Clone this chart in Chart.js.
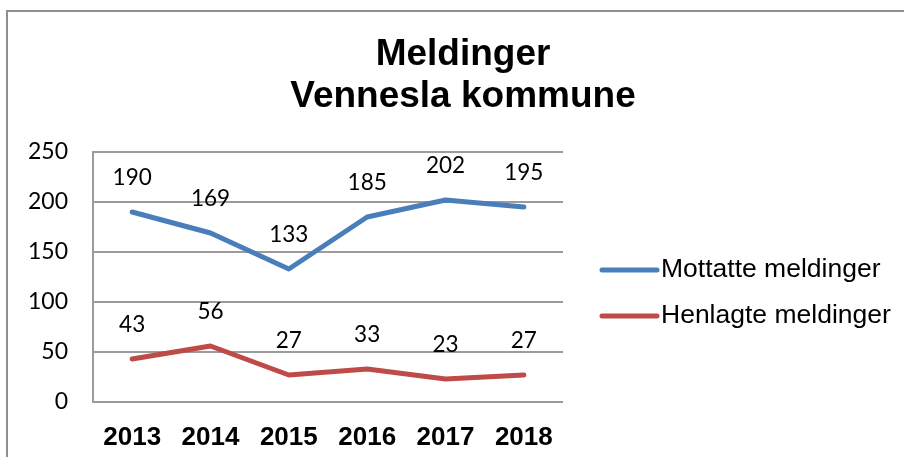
<!DOCTYPE html>
<html>
<head>
<meta charset="utf-8">
<script src="https://cdn.jsdelivr.net/npm/chart.js@4/dist/chart.umd.min.js"></script>
<style>
  html, body { margin: 0; padding: 0; background: #ffffff; }
  #wrap { position: relative; width: 904px; height: 457px; overflow: hidden; }
</style>
</head>
<body>
<div id="wrap"><canvas id="c" width="904" height="457"></canvas></div>
<script>
const categories = ['2013', '2014', '2015', '2016', '2017', '2018'];
const mottatte = [190, 169, 133, 185, 202, 195];
const henlagte = [43, 56, 27, 33, 23, 27];
const seriesNames = ['Mottatte meldinger', 'Henlagte meldinger'];
const titleLines = ['Meldinger', 'Vennesla kommune'];
const yTicks = [0, 50, 100, 150, 200, 250];

const BLUE = '#4a7ebb';
const RED = '#be4b48';
const GRID = '#9b9b9b';

const framePlugin = {
  id: 'frame',
  beforeDraw(chart) {
    const ctx = chart.ctx;
    ctx.save();
    ctx.fillStyle = '#ffffff';
    ctx.fillRect(0, 0, chart.width, chart.height);
    ctx.strokeStyle = '#8f8f8f';
    ctx.lineWidth = 2;
    ctx.strokeRect(7, 11, chart.width + 20, chart.height + 20);
    ctx.restore();
  }
};

const valueLabels = {
  id: 'valueLabels',
  afterDatasetsDraw(chart) {
    const ctx = chart.ctx;
    ctx.save();
    ctx.font = '22.5px Lato';
    ctx.fillStyle = '#000000';
    ctx.textAlign = 'center';
    ctx.textBaseline = 'middle';
    chart.data.datasets.forEach((ds, i) => {
      const meta = chart.getDatasetMeta(i);
      meta.data.forEach((pt, j) => {
        ctx.fillText(String(ds.data[j]), pt.x, pt.y - 34);
      });
    });
    ctx.restore();
  }
};

const sideLegend = {
  id: 'sideLegend',
  afterDraw(chart) {
    const ctx = chart.ctx;
    const a = chart.chartArea;
    const x0 = a.right + 39;
    const x1 = x0 + 55;
    const mid = (a.top + a.bottom) / 2 + 16;
    const gap = 46;
    ctx.save();
    ctx.font = '26.5px "Liberation Sans", Arial, sans-serif';
    ctx.textAlign = 'left';
    ctx.textBaseline = 'middle';
    chart.data.datasets.forEach((ds, i) => {
      const y = mid + (i - (chart.data.datasets.length - 1) / 2) * gap;
      ctx.strokeStyle = ds.borderColor;
      ctx.lineWidth = 5;
      ctx.lineCap = 'round';
      ctx.beginPath();
      ctx.moveTo(x0, y);
      ctx.lineTo(x1, y);
      ctx.stroke();
      ctx.fillStyle = '#000000';
      ctx.fillText(ds.label, x1 + 4, y);
    });
    ctx.restore();
  }
};

new Chart(document.getElementById('c'), {
  type: 'line',
  data: {
    labels: categories,
    datasets: [
      { label: seriesNames[0], data: mottatte, borderColor: BLUE, backgroundColor: BLUE },
      { label: seriesNames[1], data: henlagte, borderColor: RED, backgroundColor: RED }
    ]
  },
  options: {
    responsive: false,
    animation: false,
    devicePixelRatio: 1,
    layout: { padding: { left: 22, right: 0, top: 0, bottom: 0 } },
    elements: {
      line: { borderWidth: 5, tension: 0, borderCapStyle: 'round', borderJoinStyle: 'round', fill: false },
      point: { radius: 0, hoverRadius: 0 }
    },
    plugins: {
      legend: { display: false },
      tooltip: { enabled: false },
      title: {
        display: true,
        text: titleLines,
        color: '#000000',
        font: { family: '"Liberation Sans", Arial, sans-serif', size: 37, weight: 'bold', lineHeight: 1.135 },
        padding: { top: 34, bottom: 34 }
      }
    },
    scales: {
      x: {
        offset: true,
        grid: { display: false, drawTicks: false },
        border: { display: false },
        ticks: {
          color: '#000000',
          padding: 20,
          font: { family: '"Liberation Sans", Arial, sans-serif', size: 26, weight: 'bold' }
        },
        afterFit(scale) { scale.height = 55; }
      },
      y: {
        min: 0,
        max: 250,
        afterBuildTicks(scale) { scale.ticks = yTicks.map(v => ({ value: v })); },
        grid: { color: GRID, lineWidth: 2, drawTicks: false },
        border: { display: true, color: GRID, width: 2 },
        ticks: {
          color: '#000000',
          padding: 25,
          font: { family: 'Lato', size: 23 }
        },
        afterFit(scale) { scale.width = 71; }
      },
      yR: {
        position: 'right',
        display: true,
        grid: { display: false, drawTicks: false },
        border: { display: false },
        ticks: { display: false },
        afterFit(scale) { scale.width = 341; }
      }
    }
  },
  plugins: [framePlugin, valueLabels, sideLegend]
});
</script>
</body>
</html>
